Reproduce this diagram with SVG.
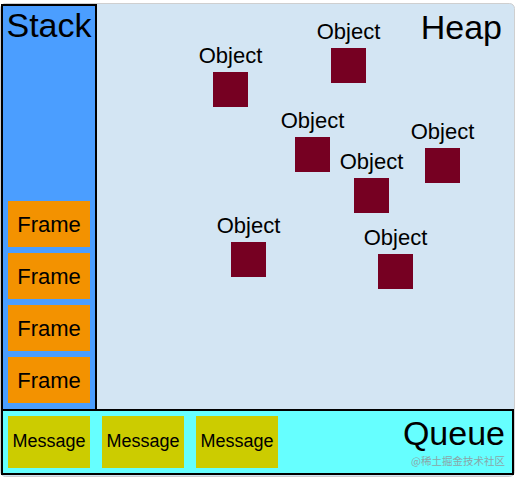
<svg xmlns="http://www.w3.org/2000/svg" width="518" height="478" viewBox="0 0 518 478">
<style>
.lbl{font-family:"Liberation Sans",Arial,sans-serif;fill:#000}
.big{font-size:34px}
.obj rect{fill:#760022}
.obj text{font-size:22px;text-anchor:middle}
.frame rect{fill:#f39200}
.frame text{font-size:22px;text-anchor:middle}
.msg rect{fill:#cccc00}
.msg text{font-size:18px;text-anchor:middle}
</style>
<rect x="0" y="0" width="518" height="478" fill="#ffffff"/>
<g id="heap">
<rect x="0.5" y="3.5" width="514" height="473" rx="5" fill="#d3e5f3" stroke="#cfcfcf" stroke-width="1"/>
<text class="lbl big" x="502" y="39" text-anchor="end">Heap</text>
</g>
<g id="stack">
<rect x="2" y="5" width="94" height="405" fill="#4b9eff" stroke="#000" stroke-width="2"/>
<text class="lbl big" x="49" y="37" text-anchor="middle">Stack</text>
</g>
<g id="frame1" class="frame"><rect x="8" y="201" width="82" height="46"/><text class="lbl" x="49" y="232">Frame</text></g>
<g id="frame2" class="frame"><rect x="8" y="253" width="82" height="46"/><text class="lbl" x="49" y="284">Frame</text></g>
<g id="frame3" class="frame"><rect x="8" y="305" width="82" height="46"/><text class="lbl" x="49" y="336">Frame</text></g>
<g id="frame4" class="frame"><rect x="8" y="357" width="82" height="46"/><text class="lbl" x="49" y="388">Frame</text></g>
<g id="obj1" class="obj"><rect x="213" y="72" width="35" height="35"/><text class="lbl" x="230.5" y="63">Object</text></g>
<g id="obj2" class="obj"><rect x="331" y="48" width="35" height="35"/><text class="lbl" x="348.5" y="39">Object</text></g>
<g id="obj3" class="obj"><rect x="295" y="137" width="35" height="35"/><text class="lbl" x="312.5" y="128">Object</text></g>
<g id="obj4" class="obj"><rect x="425" y="148" width="35" height="35"/><text class="lbl" x="442.5" y="139">Object</text></g>
<g id="obj5" class="obj"><rect x="354" y="178" width="35" height="35"/><text class="lbl" x="371.5" y="169">Object</text></g>
<g id="obj6" class="obj"><rect x="231" y="242" width="35" height="35"/><text class="lbl" x="248.5" y="233">Object</text></g>
<g id="obj7" class="obj"><rect x="378" y="254" width="35" height="35"/><text class="lbl" x="395.5" y="245">Object</text></g>
<g id="queue">
<rect x="2" y="410" width="511" height="64" fill="#66ffff" stroke="#000" stroke-width="2"/>
<text class="lbl big" x="505" y="445" text-anchor="end">Queue</text>
</g>
<g id="msg1" class="msg"><rect x="8" y="416" width="82" height="52"/><text class="lbl" x="49" y="447">Message</text></g>
<g id="msg2" class="msg"><rect x="102" y="416" width="82" height="52"/><text class="lbl" x="143" y="447">Message</text></g>
<g id="msg3" class="msg"><rect x="196" y="416" width="82" height="52"/><text class="lbl" x="237" y="447">Message</text></g>
<g id="connectors"></g>
<text x="505" y="465" text-anchor="end" font-family="'Noto Sans CJK SC',sans-serif" font-size="10.5" fill="#8aa6a8">@稀土掘金技术社区</text>
</svg>
